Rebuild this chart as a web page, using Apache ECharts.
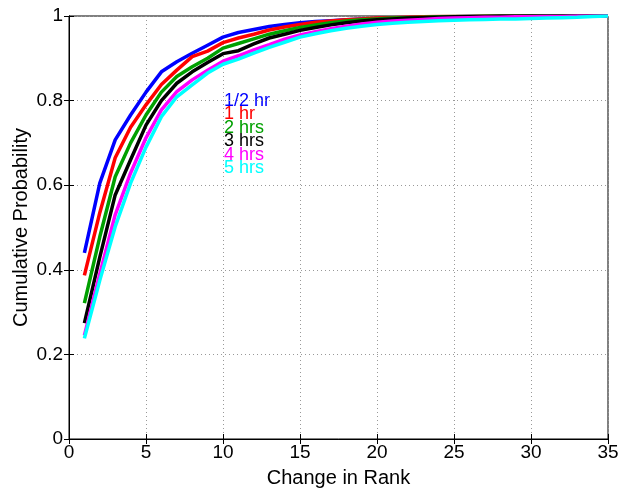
<!DOCTYPE html>
<html>
<head>
<meta charset="utf-8">
<script src="https://cdn.jsdelivr.net/npm/echarts@6/dist/echarts.min.js"></script>
<style>
  html, body { margin: 0; padding: 0; background: #fff; }
  #chart { width: 619px; height: 495px; }
</style>
</head>
<body>
<div id="chart"></div>
<script>
// change in rank, 1..35
const ranks = Array.from({ length: 35 }, (_, i) => i + 1);

const halfHour = [0.44, 0.605, 0.707, 0.766, 0.82, 0.868, 0.892, 0.912, 0.931, 0.95,
  0.961, 0.968, 0.975, 0.98, 0.984, 0.987, 0.989, 0.991, 0.993, 0.994,
  0.995, 0.996, 0.997, 0.998, 0.998, 0.999, 0.999, 0.999, 0.999, 1, 1, 1, 1, 1, 1];
const oneHour = [0.387, 0.535, 0.665, 0.737, 0.79, 0.838, 0.872, 0.904, 0.917, 0.937,
  0.948, 0.957, 0.967, 0.974, 0.98, 0.985, 0.988, 0.991, 0.993, 0.995,
  0.996, 0.997, 0.998, 0.999, 0.999, 0.999, 1, 1, 1, 1, 1, 1, 1, 1, 1];
const twoHours = [0.321, 0.478, 0.62, 0.70, 0.766, 0.82, 0.857, 0.88, 0.90, 0.924,
  0.935, 0.946, 0.957, 0.965, 0.973, 0.979, 0.984, 0.988, 0.991, 0.993,
  0.995, 0.996, 0.997, 0.998, 0.999, 0.999, 1, 1, 1, 1, 1, 1, 1, 1, 1];
const threeHours = [0.274, 0.43, 0.577, 0.66, 0.742, 0.80, 0.841, 0.868, 0.89, 0.911,
  0.918, 0.934, 0.948, 0.957, 0.966, 0.973, 0.979, 0.984, 0.988, 0.991,
  0.993, 0.995, 0.996, 0.997, 0.998, 0.999, 0.999, 1, 1, 1, 1, 1, 1, 1, 1];
const fourHours = [0.245, 0.39, 0.53, 0.629, 0.712, 0.778, 0.821, 0.849, 0.872, 0.893,
  0.906, 0.92, 0.932, 0.945, 0.955, 0.963, 0.97, 0.976, 0.981, 0.985,
  0.988, 0.99, 0.992, 0.994, 0.995, 0.996, 0.997, 0.997, 0.998, 0.998,
  0.999, 0.999, 1, 1, 1];
const fiveHours = [0.238, 0.375, 0.502, 0.605, 0.69, 0.762, 0.809, 0.837, 0.865, 0.886,
  0.898, 0.912, 0.926, 0.938, 0.95, 0.958, 0.965, 0.971, 0.976, 0.98,
  0.983, 0.985, 0.987, 0.989, 0.99, 0.991, 0.992, 0.993, 0.993, 0.994,
  0.995, 0.996, 0.997, 0.999, 1];

const seriesNames = ['1/2 hr', '1 hr', '2 hrs', '3 hrs', '4 hrs', '5 hrs'];
const seriesColors = ['#0000ff', '#ff0000', '#00a000', '#000000', '#ff00ff', '#00ffff'];
const seriesValues = [halfHour, oneHour, twoHours, threeHours, fourHours, fiveHours];

const xTicks = [0, 5, 10, 15, 20, 25, 30, 35];
const yTicks = [0, 0.2, 0.4, 0.6, 0.8, 1];

const font = 'Liberation Sans, Arial, sans-serif';

const chart = echarts.init(document.getElementById('chart'));

const axisLine = { show: true, lineStyle: { color: '#000', width: 1 } };
const tick = { show: true, inside: true, length: 5, lineStyle: { color: '#000' } };
const gridLine = { show: true, lineStyle: { color: '#999', type: [1, 3], width: 1 } };

chart.setOption({
  animation: false,
  backgroundColor: '#fff',
  grid: {
    left: 69, right: 11, top: 16, bottom: 56,
    outerBoundsMode: 'none', containLabel: false,
    show: true, borderColor: '#000', borderWidth: 1
  },
  xAxis: [
    {
      type: 'value', min: xTicks[0], max: xTicks[xTicks.length - 1], interval: 5,
      name: 'Change in Rank', nameLocation: 'middle', nameGap: 29, nameMoveOverlap: false,
      nameTextStyle: { fontFamily: font, fontSize: 20, color: '#000' },
      axisLine: axisLine, axisTick: tick,
      axisLabel: { fontFamily: font, fontSize: 19, color: '#000', margin: 4 },
      splitLine: gridLine
    },
    {
      type: 'value', position: 'top', min: xTicks[0], max: xTicks[xTicks.length - 1], interval: 5,
      axisLine: axisLine, axisTick: tick,
      axisLabel: { show: false }, splitLine: { show: false }
    }
  ],
  yAxis: [
    {
      type: 'value', min: yTicks[0], max: yTicks[yTicks.length - 1], interval: 0.2,
      name: 'Cumulative Probability', nameLocation: 'middle', nameGap: 38, nameMoveOverlap: false,
      nameTextStyle: { fontFamily: font, fontSize: 20, color: '#000' },
      axisLine: axisLine, axisTick: tick,
      axisLabel: { fontFamily: font, fontSize: 19, color: '#000', margin: 6,
        formatter: v => String(Math.round(v * 10) / 10) },
      splitLine: gridLine
    },
    {
      type: 'value', position: 'right', min: yTicks[0], max: yTicks[yTicks.length - 1], interval: 0.2,
      axisLine: axisLine, axisTick: tick,
      axisLabel: { show: false }, splitLine: { show: false }
    }
  ],
  series: seriesNames.map((name, i) => ({
    name: name,
    type: 'line',
    xAxisIndex: 0,
    yAxisIndex: 0,
    showSymbol: false,
    lineStyle: { color: seriesColors[i], width: 3.5 },
    itemStyle: { color: seriesColors[i] },
    data: ranks.map((r, j) => [r, seriesValues[i][j]])
  })),
  // stacked text labels, as in the original figure
  graphic: seriesNames.map((name, i) => ({
    type: 'text',
    left: 224,
    top: 92 + [0, 13, 27, 40, 54, 67][i],
    style: { text: name, fill: seriesColors[i], font: '18px ' + font }
  }))
});
</script>
</body>
</html>
